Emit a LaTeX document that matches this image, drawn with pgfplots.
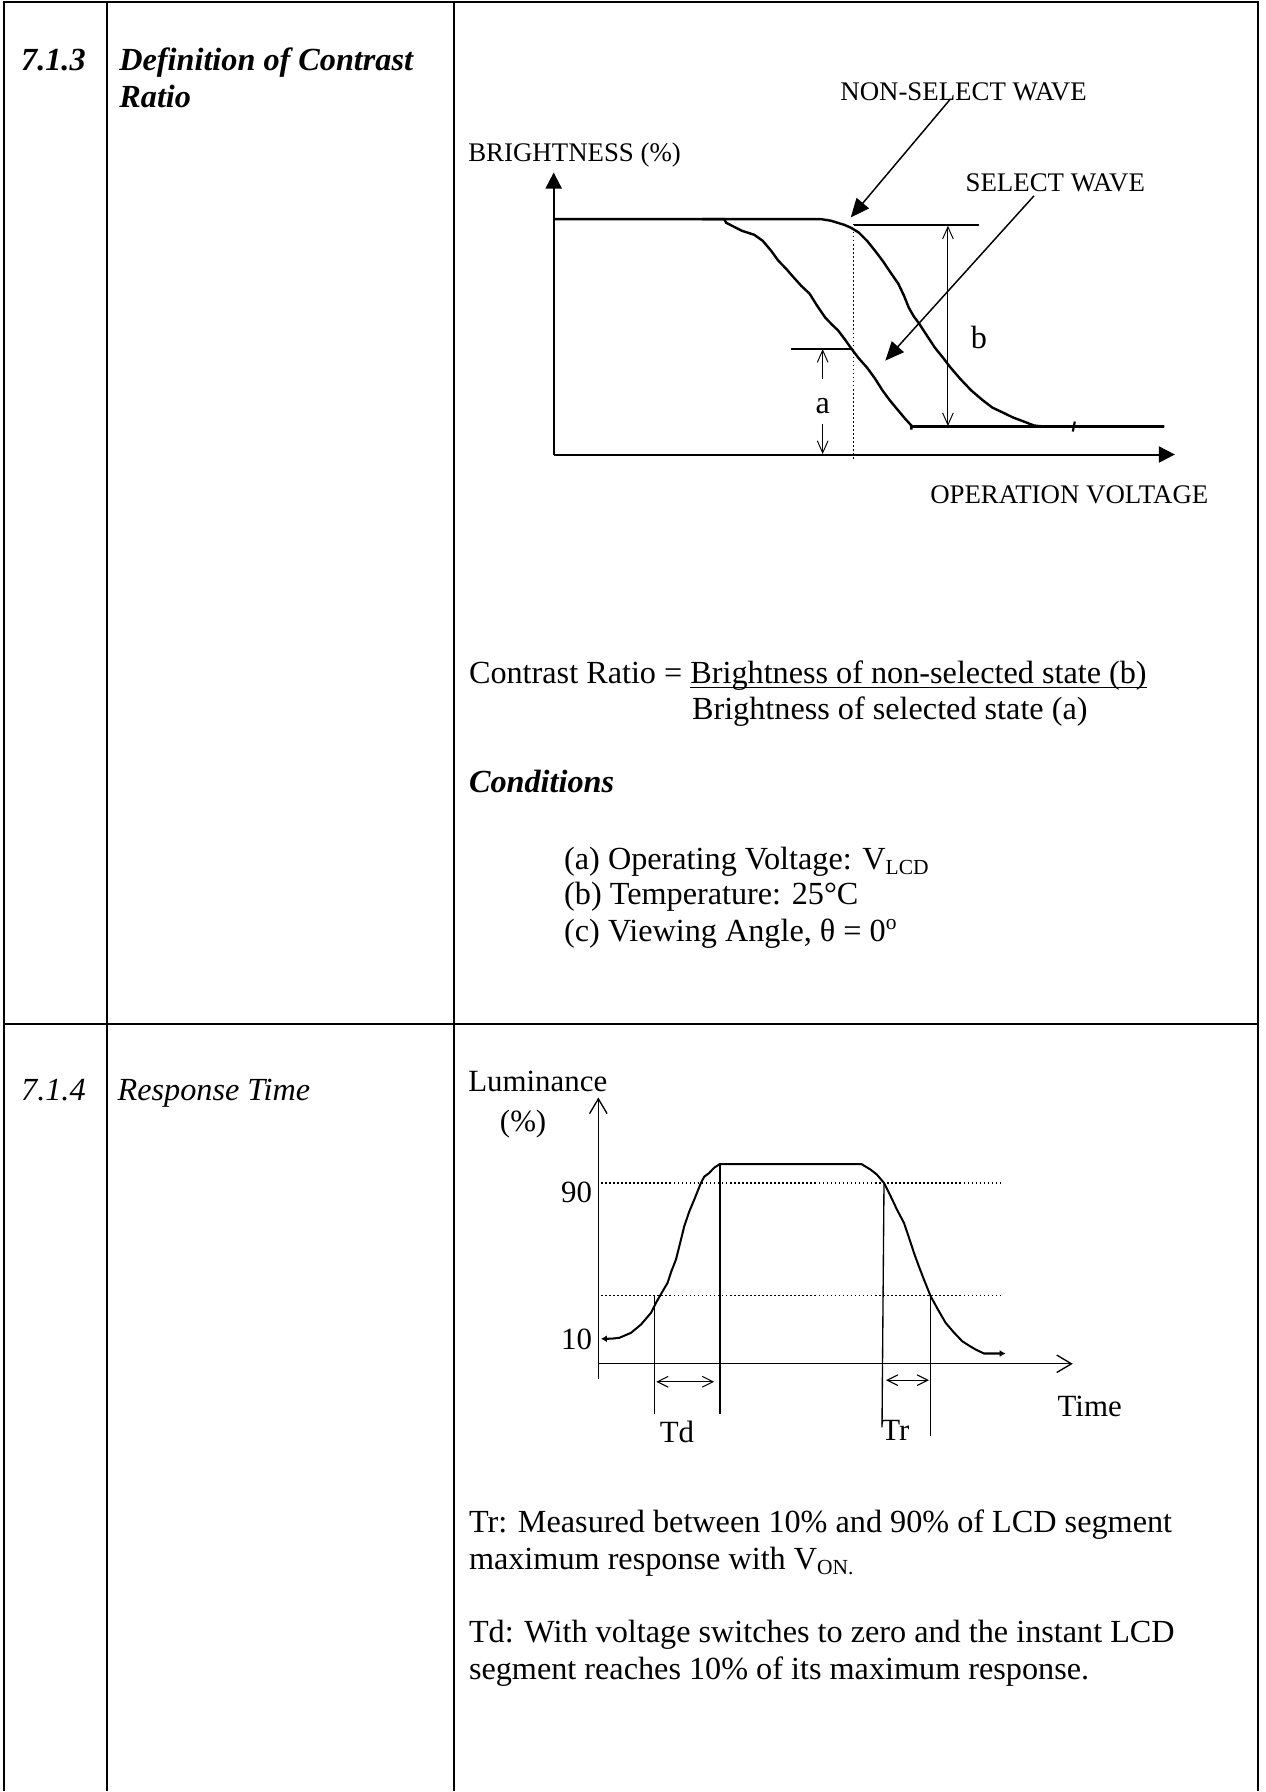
\documentclass[border=0pt]{standalone}
\usepackage{fontspec}
\setmainfont{Liberation Serif}
\usepackage{pgfplots}
\pgfplotsset{compat=1.18}
\usetikzlibrary{arrows.meta}

% underline that crosses the descenders, as in the reference
\newcommand\ul[1]{\setbox0\hbox{#1}\rlap{\rule[-1.6pt]{\wd0}{0.45pt}}\box0}

\tikzset{
  txt/.style={anchor=base west, inner sep=0pt, font=\fontsize{12}{14}\selectfont},
  lab/.style={inner sep=0pt, font=\fontsize{10}{12}\selectfont},
  lum/.style={inner sep=0pt, font=\fontsize{11.5}{13}\selectfont},
}

\begin{document}
\begin{tikzpicture}
\begin{axis}[
  width=471.32pt, height=666.62pt, scale only axis,
  xmin=0, xmax=1267, ymin=0, ymax=1792, y dir=reverse,
  hide axis, clip=false,
]
\path (0,0) rectangle (1267,1792);

% ---- table rules
\draw[line width=0.75pt] (4,0) -- (4,1792);
\draw[line width=0.75pt] (106.7,0) -- (106.7,1792);
\draw[line width=0.75pt] (454.5,0) -- (454.5,1792);
\draw[line width=0.75pt] (1259,0) -- (1259,1792);
\draw[line width=0.75pt] (4,1.2) -- (1259,1.2);
\draw[line width=0.75pt] (4,1024.5) -- (1259,1024.5);

% ---- left columns
\node[txt, font=\fontsize{12}{14}\selectfont\bfseries\itshape] at (20.7,70) {7.1.3};
\node[txt, font=\fontsize{12}{14}\selectfont\bfseries\itshape] at (119,70) {Definition of Contrast};
\node[txt, font=\fontsize{12}{14}\selectfont\bfseries\itshape] at (119,106.7) {Ratio};
\node[txt, font=\fontsize{12}{14}\selectfont\itshape] at (20.7,1101) {7.1.4};
\node[txt, font=\fontsize{12}{14}\selectfont\itshape] at (117.3,1101) {Response Time};

% ---- contrast ratio diagram
% curves
\addplot[black, line width=0.9pt, no marks] coordinates {
  (554.3,218.3) (821.7,218.3) (832,220) (845,224) (852,227) (860,232)
  (868,240) (876,250) (883.6,260) (891,271) (899.3,283) (905,295)
  (909.8,307) (915,316) (920.2,323) (928,335) (935.9,347) (944,357)
  (951.6,367) (962,379) (972.5,390) (983,399) (993.4,407) (1004,412)
  (1014.3,417) (1025,421) (1035.2,425) (1045,426) (1165.8,426)
};
\addplot[black, line width=0.9pt, no marks] coordinates {
  (703,218.3) (725,218.3) (727,222) (742.6,230) (755,234) (763.5,240)
  (772,250) (779.2,260) (787,268) (794.8,277) (802,285) (810.5,293)
  (818,305) (826.2,317) (833,324) (839.2,330) (846,339) (852.3,348)
  (860,358) (868,367) (876,378) (883.6,390) (891,400) (899.3,410)
  (906,418) (912.4,425) (912.4,429)
};
\addplot[black, line width=0.9pt, no marks] coordinates {(912.4,426) (1165.8,426)};
\draw[line width=0.8pt] (1074,431) -- (1076,421);

% axes
\draw[line width=0.75pt, -{Triangle[width=6pt,length=6pt]}] (554.3,454) -- (554.3,171.7);
\draw[line width=0.75pt, -{Triangle[width=6pt,length=6pt]}] (554.3,454) -- (1176.2,454);

% markers
\draw[line width=0.8pt] (855,224.3) -- (980.3,224.3);
\draw[line width=0.8pt] (792.2,348) -- (854,348);
\draw[line width=0.4pt, dash pattern=on 0.6pt off 0.9pt] (854,223) -- (854,458);
\draw[line width=0.35pt, {Straight Barb[width=4pt,length=4.5pt]}-{Straight Barb[width=4pt,length=4.5pt]}] (949,225) -- (949,425.5);
\draw[line width=0.35pt, -{Straight Barb[width=4pt,length=4.5pt]}] (823.6,378) -- (823.6,348.5);
\draw[line width=0.35pt, -{Straight Barb[width=4pt,length=4.5pt]}] (823.6,423) -- (823.6,453.5);
\node[anchor=base, inner sep=0pt, font=\fontsize{12}{14}\selectfont] at (980,348) {b};
\node[anchor=base, inner sep=0pt, font=\fontsize{12}{14}\selectfont] at (823.6,413) {a};

% callouts
\draw[line width=0.55pt, -{Triangle[width=6pt,length=7pt]}] (951.6,98) -- (851.7,216.7);
\draw[line width=0.55pt, -{Triangle[width=6pt,length=7pt]}] (1035.2,195) -- (886.3,360);

% labels
\node[lab, anchor=base west] at (468.3,161) {BRIGHTNESS (\%)};
\node[lab, anchor=base west] at (840.8,100) {NON-SELECT WAVE};
\node[lab, anchor=base west] at (966.2,190.7) {SELECT WAVE};
\node[lab, anchor=base east] at (1210.2,503.3) {OPERATION VOLTAGE};

% formula and conditions
\node[txt] at (469,683.3) {Contrast Ratio = \ul{Brightness of non-selected state (b)}};
\node[txt] at (692.3,719.3) {Brightness of selected state (a)};
\node[txt, font=\fontsize{12}{14}\selectfont\bfseries\itshape] at (469,792.7) {Conditions};
\node[txt] at (564.3,869.3) {(a) Operating Voltage: V\textsubscript{LCD}};
\node[txt] at (564.3,904.5) {(b) Temperature: 25°C};
\node[txt] at (564.3,941.7) {(c) Viewing Angle, θ = 0\textsuperscript{o}};

% ---- response time diagram
\draw[line width=0.4pt, dash pattern=on 0.6pt off 0.9pt] (601.7,1183.3) -- (1004,1183.3);
\draw[line width=0.4pt, dash pattern=on 0.6pt off 0.9pt] (601.7,1296) -- (1004,1296);

\addplot[black, line width=0.75pt, no marks,
  {Latex[length=2.2pt,width=2.6pt]}-{Latex[length=2.2pt,width=2.6pt]}] coordinates {
  (601.7,1339.3) (612,1339.2) (620,1338.3) (631.7,1333.3) (641.7,1325)
  (651.7,1313.3) (656.7,1303.3) (662,1294) (668.3,1283.3) (672,1272)
  (676.7,1260) (681,1243) (685,1226.7) (690,1212) (695,1200)
  (701.7,1183.3) (705,1177) (710,1173.3) (715,1168) (720.7,1164.3)
  (862.3,1164.3) (871.7,1170) (878,1175) (885,1183.3) (891.7,1196.7)
  (898,1210) (905,1223.3) (910,1238) (915,1253.3) (920,1267)
  (925,1280) (931.7,1296.7) (939,1310) (946.7,1323.3) (955,1333)
  (963.3,1341.7) (970,1346) (976.7,1350) (985,1354) (1006.7,1354)
};

% axes
\draw[line width=0.5pt, -{Straight Barb[width=6.5pt,length=5.5pt]}] (599,1380) -- (599,1097.7);
\draw[line width=0.5pt, -{Straight Barb[width=6.5pt,length=5.5pt]}] (599,1364.3) -- (1074,1364.3);

% time markers
\draw[line width=0.5pt] (655.3,1296) -- (655.3,1415);
\draw[line width=0.5pt] (720.7,1164.3) -- (720.7,1415);
\draw[line width=0.5pt] (885,1183.3) -- (883,1428);
\draw[line width=0.5pt] (931.7,1296.7) -- (931.7,1437);
\draw[line width=0.4pt, {Straight Barb[width=4pt,length=4pt]}-{Straight Barb[width=4pt,length=4pt]}] (657,1382.3) -- (715,1382.3);
\draw[line width=0.4pt, {Straight Barb[width=4pt,length=4pt]}-{Straight Barb[width=4pt,length=4pt]}] (887,1380.7) -- (930,1380.7);

% labels
\node[lum, anchor=base west] at (468.3,1091.7) {Luminance};
\node[lum, anchor=base west] at (500,1131.7) {(\%)};
\node[lum, anchor=base east] at (593.3,1203.3) {90};
\node[lum, anchor=base east] at (593.3,1350) {10};
\node[lum, anchor=base west] at (660,1443) {Td};
\node[lum, anchor=base west] at (881.7,1441) {Tr};
\node[lum, anchor=base west] at (1058.3,1416.7) {Time};

% notes
\node[txt] at (469,1533.3) {Tr: Measured between 10\% and 90\% of LCD segment};
\node[txt] at (469,1570) {maximum response with V\textsubscript{ON.}};
\node[txt] at (469,1643.3) {Td: With voltage switches to zero and the instant LCD};
\node[txt] at (469,1680) {segment reaches 10\% of its maximum response.};
\end{axis}
\end{tikzpicture}
\end{document}
